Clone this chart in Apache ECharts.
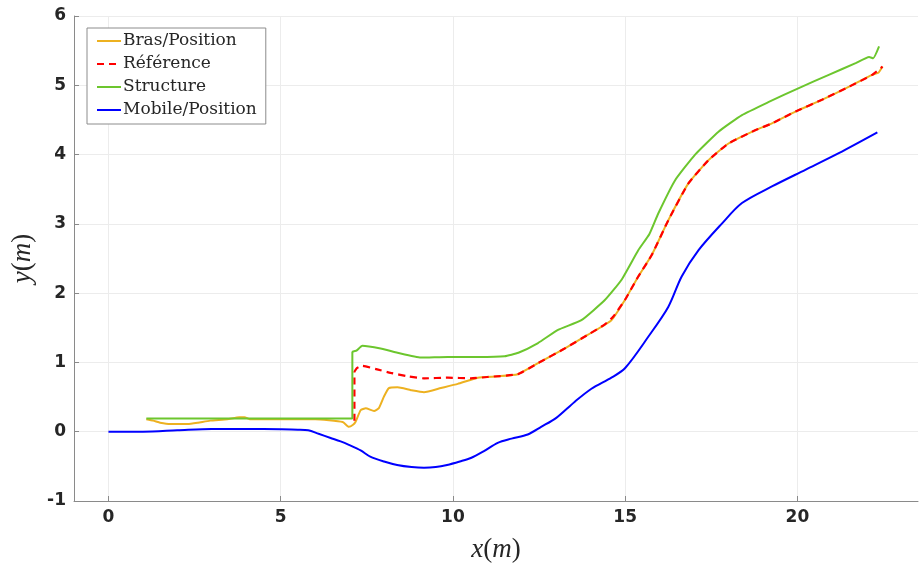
<!DOCTYPE html>
<html>
<head>
<meta charset="utf-8">
<script src="https://cdn.jsdelivr.net/npm/echarts@6/dist/echarts.min.js"></script>
<style>html,body{margin:0;padding:0;background:#fff;}#c{width:920px;height:565px;}</style>
</head>
<body>
<div id="c"></div>
<script>
var xTicks = [0, 5, 10, 15, 20];
var yTicks = [-1, 0, 1, 2, 3, 4, 5, 6];
var seriesNames = ['Bras/Position', 'Référence', 'Structure', 'Mobile/Position'];

var brasX = [1.1, 1.3, 1.5, 1.8, 2.3, 2.6, 2.95, 3.45, 3.8, 3.95, 4.1, 5.0, 6.0, 6.8, 6.98, 7.1, 7.17, 7.32, 7.47, 7.71, 7.85, 8.0, 8.14, 8.39, 8.78, 9.16, 9.65, 10.14, 10.72, 11.3, 11.88, 12.47, 13.24, 13.92, 14.6, 14.99, 15.38, 15.77, 16.25, 16.83, 17.42, 18.0, 18.77, 19.26, 19.94, 20.71, 21.5, 22.17, 22.35, 22.47];
var brasY = [0.18, 0.16, 0.13, 0.11, 0.11, 0.13, 0.16, 0.18, 0.21, 0.21, 0.18, 0.18, 0.18, 0.14, 0.07, 0.10, 0.14, 0.31, 0.34, 0.30, 0.34, 0.51, 0.63, 0.64, 0.60, 0.57, 0.63, 0.69, 0.78, 0.80, 0.83, 0.99, 1.20, 1.40, 1.61, 1.90, 2.24, 2.55, 3.05, 3.58, 3.92, 4.16, 4.35, 4.45, 4.62, 4.79, 4.98, 5.15, 5.18, 5.27];

var refX = [7.14, 7.14, 7.22, 7.37, 7.8, 8.19, 8.68, 9.16, 9.85, 10.52, 11.0, 11.88, 12.47, 13.24, 13.92, 14.41, 14.65, 14.99, 15.38, 15.77, 16.25, 16.83, 17.42, 18.0, 18.77, 19.26, 19.94, 20.71, 21.5, 22.17, 22.47];
var refY = [0.16, 0.86, 0.92, 0.95, 0.90, 0.85, 0.80, 0.77, 0.78, 0.77, 0.79, 0.83, 0.99, 1.20, 1.40, 1.55, 1.66, 1.90, 2.24, 2.55, 3.05, 3.58, 3.92, 4.16, 4.35, 4.45, 4.62, 4.79, 4.98, 5.15, 5.27];

var structX = [1.1, 7.08, 7.08, 7.2, 7.37, 7.9, 8.39, 9.07, 9.85, 10.72, 11.5, 11.9, 12.47, 13.05, 13.73, 14.41, 14.89, 15.38, 15.7, 15.96, 16.45, 17.03, 17.71, 18.39, 19.17, 20.04, 20.91, 21.69, 22.08, 22.2, 22.37];
var structY = [0.19, 0.19, 1.15, 1.17, 1.24, 1.20, 1.14, 1.07, 1.08, 1.08, 1.09, 1.14, 1.28, 1.47, 1.61, 1.90, 2.19, 2.62, 2.85, 3.15, 3.63, 4.00, 4.33, 4.57, 4.76, 4.96, 5.15, 5.32, 5.41, 5.39, 5.56];

var mobileX = [0, 1, 2, 3, 4, 5, 5.5, 5.8, 6.1, 6.45, 6.74, 6.98, 7.32, 7.6, 8.0, 8.38, 8.8, 9.16, 9.5, 9.83, 10.2, 10.52, 10.9, 11.3, 11.7, 12.17, 12.56, 13.0, 13.53, 14.02, 14.6, 15.0, 15.67, 16.25, 16.64, 17.13, 17.8, 18.39, 19.26, 20.23, 21.2, 22.32];
var mobileY = [0, 0, 0.02, 0.04, 0.04, 0.035, 0.03, 0.02, -0.03, -0.09, -0.14, -0.19, -0.27, -0.36, -0.43, -0.48, -0.51, -0.52, -0.51, -0.48, -0.43, -0.38, -0.28, -0.16, -0.10, -0.04, 0.07, 0.2, 0.43, 0.62, 0.78, 0.92, 1.37, 1.80, 2.24, 2.62, 3.0, 3.30, 3.54, 3.78, 4.02, 4.32];

function zip(xs, ys) { return xs.map(function (x, i) { return [x, ys[i]]; }); }

var chart = echarts.init(document.getElementById('c'), null, { renderer: 'canvas' });
var labelStyle = { color: '#262626', fontFamily: 'DejaVu Sans', fontWeight: 'bold', fontSize: 17 };
var nameRich = {
  i: { fontFamily: 'Liberation Serif', fontStyle: 'italic', fontSize: 27, color: '#262626' },
  n: { fontFamily: 'Liberation Serif', fontSize: 27, color: '#262626' }
};
chart.setOption({
  animation: false,
  backgroundColor: '#ffffff',
  grid: { left: 74, right: 2, top: 16, bottom: 64, containLabel: false, outerBoundsMode: 'none' },
  legend: {
    orient: 'vertical', left: 87, top: 28,
    data: seriesNames,
    backgroundColor: '#ffffff', borderColor: '#8c8c8c', borderWidth: 1,
    padding: [4, 9, 5, 9],
    itemWidth: 24, itemHeight: 14, itemGap: 5,
    itemStyle: { opacity: 0 },
    textStyle: { fontFamily: 'DejaVu Serif', fontSize: 17, color: '#262626', lineHeight: 18, padding: [0, 0, 0, -3] }
  },
  xAxis: {
    type: 'value', min: -1, max: 23.5,
    name: '{i|x}{n|(}{i|m}{n|)}', nameLocation: 'middle', nameGap: 35,
    nameTextStyle: { rich: nameRich },
    axisLine: { show: true, onZero: false, lineStyle: { color: '#8a8a8a', width: 1 } },
    axisTick: { show: true, inside: true, length: 5, customValues: xTicks, lineStyle: { color: '#8a8a8a' } },
    axisLabel: Object.assign({ customValues: xTicks, margin: 8 }, labelStyle),
    splitLine: { show: true, lineStyle: { color: '#ececec', width: 1 } }
  },
  yAxis: {
    type: 'value', min: -1, max: 6, interval: 1,
    name: '{i|y}{n|(}{i|m}{n|)}', nameLocation: 'middle', nameGap: 33,
    nameTextStyle: { rich: nameRich },
    axisLine: { show: true, onZero: false, lineStyle: { color: '#8a8a8a', width: 1 } },
    axisTick: { show: true, inside: true, length: 5, lineStyle: { color: '#8a8a8a' } },
    axisLabel: Object.assign({ margin: 8, customValues: yTicks }, labelStyle),
    splitLine: { show: true, lineStyle: { color: '#ececec', width: 1 } }
  },
  series: [
    { name: seriesNames[0], type: 'line', data: zip(brasX, brasY), symbol: 'none', z: 2, smooth: 0.15,
      lineStyle: { color: '#EDB120', width: 2 }, itemStyle: { color: '#EDB120' } },
    { name: seriesNames[1], type: 'line', data: zip(refX, refY), symbol: 'none', z: 3, smooth: 0.15,
      lineStyle: { color: '#FF0000', width: 2.2, type: [7, 5] }, itemStyle: { color: '#FF0000' } },
    { name: seriesNames[2], type: 'line', data: zip(structX, structY), symbol: 'none', z: 4, smooth: 0.15,
      lineStyle: { color: '#6CC62E', width: 2 }, itemStyle: { color: '#6CC62E' } },
    { name: seriesNames[3], type: 'line', data: zip(mobileX, mobileY), symbol: 'none', z: 5, smooth: 0.3,
      lineStyle: { color: '#0000FF', width: 2 }, itemStyle: { color: '#0000FF' } }
  ]
});
</script>
</body>
</html>
